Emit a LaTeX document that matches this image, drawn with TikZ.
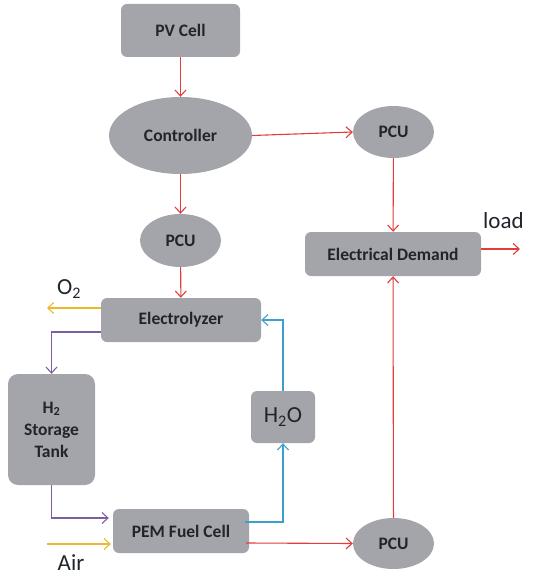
\documentclass[tikz,border=0pt]{standalone}
\usepackage{fontspec}
\setmainfont{Carlito}
\usetikzlibrary{shapes.geometric,arrows.meta}
\definecolor{boxgray}{RGB}{164,165,170}
\definecolor{txt}{RGB}{32,36,44}
\definecolor{lred}{RGB}{226,60,62}
\definecolor{lyel}{RGB}{240,182,45}
\definecolor{lpur}{RGB}{122,96,160}
\definecolor{lblu}{RGB}{60,160,205}
\tikzset{
  x=1pt, y=-1pt,
  rbox/.style={rectangle, rounded corners=6pt, fill=boxgray, text=txt, inner sep=0pt,
    font=\fontsize{17.5}{22}\selectfont\bfseries, align=center},
  ebox/.style={ellipse, fill=boxgray, text=txt, inner sep=0pt,
    font=\fontsize{17.5}{22}\selectfont\bfseries},
  conn/.style={line width=1.1pt, -{Straight Barb[length=6pt,width=11pt]}},
  redc/.style={conn, draw=lred},
  yelc/.style={conn, draw=lyel},
  purc/.style={conn, draw=lpur},
  bluc/.style={conn, draw=lblu},
  plain/.style={text=txt, font=\fontsize{23}{26}\selectfont, inner sep=0pt}
}
\begin{document}
\begin{tikzpicture}
\useasboundingbox (0,0) rectangle (555,578);
% nodes
\node[rbox, minimum width=119pt, minimum height=53pt] (pv) at (180.5,30.5) {PV Cell};
\node[ebox, minimum width=143pt, minimum height=77pt] (ctrl) at (180.5,135.5) {Controller};
\node[ebox, minimum width=81pt, minimum height=52pt] (pcu1) at (393.5,132) {PCU};
\node[ebox, minimum width=81pt, minimum height=53pt] (pcu2) at (180.5,240.5) {PCU};
\node[rbox, minimum width=176pt, minimum height=44pt] (ed) at (393,254) {Electrical Demand};
\node[plain, anchor=west] (load) at (483,221) {load};
\node[rbox, minimum width=160pt, minimum height=44pt] (el) at (181,320) {Electrolyzer};
\node[plain] (o2) at (69,289) {O\textsubscript{2}};
\node[rbox, rounded corners=10pt, minimum width=87pt, minimum height=111pt] (tank) at (51.5,429.5) {H\textsubscript{2}\\Storage\\Tank};
\node[rbox, minimum width=64pt, minimum height=52pt, font=\fontsize{23}{26}\selectfont] (h2o) at (283,417) {H\textsubscript{2}O};
\node[rbox, minimum width=136pt, minimum height=44pt] (pem) at (181,531) {PEM Fuel Cell};
\node[plain, anchor=base] (air) at (71,570) {Air};
\node[ebox, minimum width=81pt, minimum height=51pt] (pcu3) at (393.5,543.5) {PCU};
% free ends
\coordinate (loadend) at (520,249);
\coordinate (o2end) at (47,308);
\coordinate (airstart) at (47,544);
% connectors
\draw[redc] (pv) -- (ctrl);
\draw[redc] (ctrl.east) -- (pcu1.west);
\draw[redc] (ctrl) -- (pcu2);
\draw[redc] (pcu1) -- (ed);
\draw[redc] (ed.east |- loadend) -- (loadend);
\draw[redc] (pcu2) -- (el);
\draw[yelc] (el.west |- o2end) -- (o2end);
\draw[purc] ([yshift=-12pt]el.west) -| (tank.north);
\draw[purc, shorten >=4pt] (tank.south) |- ([yshift=13pt]pem.west);
\draw[yelc, shorten >=2pt] (airstart) -- (pem.west |- airstart);
\draw[bluc] ([yshift=9pt,xshift=-4pt]pem.east) -| (h2o.south);
\draw[bluc] (h2o.north) |- (el.east);
\draw[redc] ([yshift=-12pt,xshift=-3pt]pem.east) -- (pcu3.west);
\draw[redc] (pcu3) -- (ed);
\end{tikzpicture}
\end{document}
